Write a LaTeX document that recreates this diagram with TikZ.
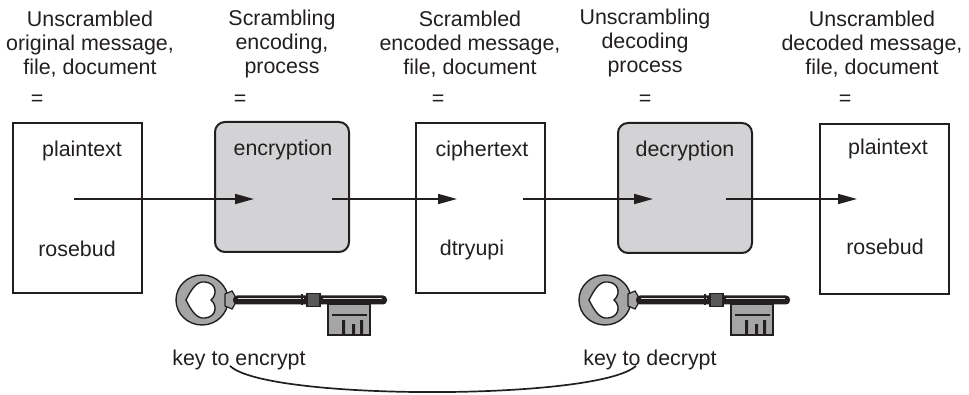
\documentclass[tikz,border=0pt]{standalone}
\usepackage{fontspec}
\setmainfont{Liberation Sans}
\usetikzlibrary{arrows.meta,positioning,calc}
\definecolor{ink}{RGB}{35,31,32}
\definecolor{procgray}{RGB}{211,211,213}
\definecolor{keygray}{RGB}{165,165,165}

\tikzset{
  oldkey/.pic={
    % bow: oval ring with a heart-shaped hole
    \path[fill=keygray, draw=ink, line width=0.7pt, even odd rule]
      (0,0) ellipse [x radius=26, y radius=25]
      (-16,0) .. controls (-10,-12) and (-5,-19) .. (3,-18)
              .. controls (14,-17) and (16,-6) .. (9,0)
              .. controls (16,6) and (14,17) .. (3,18)
              .. controls (-5,19) and (-10,12) .. (-16,0) -- cycle;
    % flared neck
    \path[fill=keygray, draw=ink, line width=0.6pt]
      (23,-6) -- (30,-9) -- (33,-4) -- (33,4) -- (30,9) -- (23,6) -- cycle;
    % shank
    \fill[ink, rounded corners=2pt] (31,-4.5) rectangle (185,4.5);
    \draw[white!75!gray, line width=0.6pt] (36,-1.5) -- (102,-1.5) (121,-1.5) -- (180,-1.5);
    % collar
    \path[fill=black!65, draw=ink, line width=0.6pt] (105,-6.5) rectangle (118,6.5);
    \draw[ink, line width=0.6pt] (100,-5.5) -- (100,5.5);
    % bit with wards
    \path[fill=keygray, draw=ink, line width=0.6pt] (126,4) rectangle (168,35);
    \draw[ink, line width=0.6pt] (130,15) -- (165,15);
    \fill[ink] (140,20) rectangle (143,35) (150,24) rectangle (153,35) (158,20) rectangle (161,35);
  }
}

\begin{document}
\begin{tikzpicture}[
    x=0.5pt, y=-0.5pt,
    font=\fontsize{10.7}{11.9}\selectfont\color{ink},
    databox/.style={draw=ink, line width=1pt, minimum width=64.5pt, minimum height=85pt, inner sep=0pt},
    procbox/.style={draw=ink, line width=1pt, fill=procgray, rounded corners=5pt,
                minimum width=67pt, minimum height=65pt, inner sep=0pt},
    caption/.style={align=center, inner sep=0pt},
    txt/.style={inner sep=0pt},
    arr/.style={-{Triangle[length=9.5pt, width=5pt]}, line width=0.85pt, ink},
    link/.style={line width=0.85pt, ink}
]
\useasboundingbox (0,0) rectangle (969,395);

% headings
\node[caption] (h-plain) at (90,44) {Unscrambled\\original message,\\file, document};
\node[caption] (h-enc) at (282,44) {Scrambling\\encoding,\\process};
\node[caption] (h-cipher) at (470,44) {Scrambled\\encoded message,\\file, document};
\node[caption] (h-dec) at (645,43) {Unscrambling\\decoding\\process};
\node[caption] (h-out) at (872,44) {Unscrambled\\decoded message,\\file, document};

\node[txt] (eq-plain) at (37,100) {=};
\node[txt] (eq-enc) at (240,100) {=};
\node[txt] (eq-cipher) at (438,100) {=};
\node[txt] (eq-dec) at (645,100) {=};
\node[txt] (eq-out) at (845,100) {=};

% boxes
\node[databox] (plain) at (77.5,208) {};
\node[procbox] (enc) at (282,187) {};
\node[databox] (cipher) at (480.5,208.5) {};
\node[procbox] (dec) at (685,188) {};
\node[databox] (out) at (884,209) {};

\node[txt] (plain-top) at (82,151) {plaintext};
\node[txt] (plain-bot) at (77,249) {rosebud};
\node[txt] (enc-top) at (283,150) {encryption};
\node[txt] (cipher-top) at (482,151) {ciphertext};
\node[txt] (cipher-bot) at (472,250) {dtryupi};
\node[txt] (dec-top) at (685,151) {decryption};
\node[txt] (out-top) at (888,149) {plaintext};
\node[txt] (out-bot) at (885,247) {rosebud};

% flow through the boxes
\coordinate (plain-out) at (74,199);
\coordinate (enc-in) at (254,199);
\coordinate (enc-out) at (332,199);
\coordinate (cipher-in) at (457,199);
\coordinate (cipher-out) at (523,199);
\coordinate (dec-in) at (653,199);
\coordinate (dec-out) at (726,199);
\coordinate (out-in) at (857,199);

\draw[arr] (plain-out) -- (enc-in);
\draw[arr] (enc-out) -- (cipher-in);
\draw[arr] (cipher-out) -- (dec-in);
\draw[arr] (dec-out) -- (out-in);

% keys
\pic at (202,300) {oldkey};
\pic at (605,300) {oldkey};
\node[txt, anchor=base] (enc-key) at (239,365) {key to encrypt};
\node[txt, anchor=base] (dec-key) at (650,365) {key to decrypt};
\draw[link] ([xshift=-4.5pt,yshift=2pt]enc-key.south) .. controls +(35,35) and +(-37,35) .. ([xshift=-7pt,yshift=2pt]dec-key.south);
\end{tikzpicture}
\end{document}
